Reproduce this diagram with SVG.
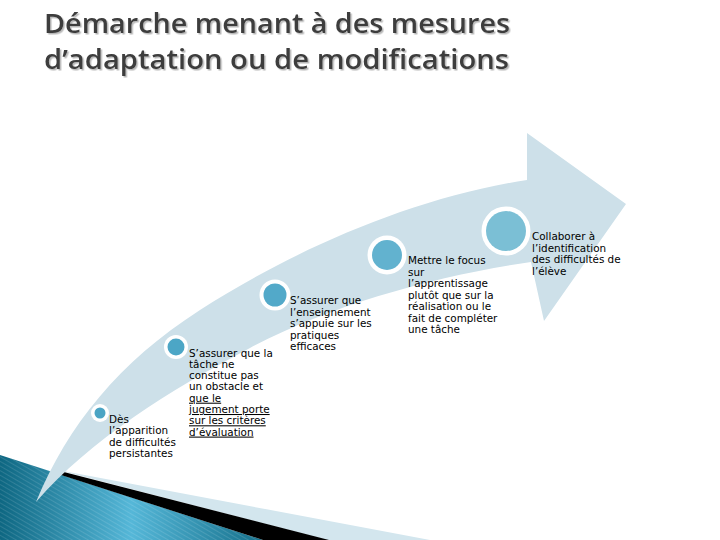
<svg xmlns="http://www.w3.org/2000/svg" width="720" height="540" viewBox="0 0 720 540">
  <defs>
    <linearGradient id="teal" x1="0" y1="0" x2="263" y2="0" gradientUnits="userSpaceOnUse">
      <stop offset="0" stop-color="#0e6782"/>
      <stop offset="0.5" stop-color="#55b7d8"/>
      <stop offset="1" stop-color="#15708b"/>
    </linearGradient>
    <pattern id="stripes" width="4" height="4" patternUnits="userSpaceOnUse" patternTransform="rotate(-60)">
      <rect width="1" height="4" fill="#ffffff" opacity="0.12"/>
    </pattern>
    <filter id="shadow" x="-5%" y="-20%" width="110%" height="150%">
      <feDropShadow dx="1.5" dy="1.5" stdDeviation="0.6" flood-color="#9a9a9a" flood-opacity="0.7"/>
    </filter>
  </defs>
  <style>
    .title { font-family: "Open Sans", "DejaVu Sans", sans-serif; font-weight: 600; font-size: 27px; fill: #3c3c3c; }
    .lbl { font-family: "DejaVu Sans", "Liberation Sans", sans-serif; font-size: 10.4px; fill: #000000; }
    .ul { text-decoration: underline; }
    .ring { fill: #ffffff; }
  </style>
  <rect width="720" height="540" fill="#ffffff"/>

  <!-- title -->
  <g id="title" filter="url(#shadow)">
    <text class="title" x="44" y="33" textLength="466" lengthAdjust="spacingAndGlyphs">Démarche menant à des mesures</text>
    <text class="title" x="44" y="69" textLength="465" lengthAdjust="spacingAndGlyphs">d’adaptation ou de modifications</text>
  </g>

  <!-- bottom-left decoration -->
  <g id="decoration">
    <polygon points="58,470 430,540 327,540" fill="#d3e6ee"/>
    <polygon points="0,455 263,540 0,540" fill="url(#teal)"/>
    <polygon points="0,455 263,540 0,540" fill="url(#stripes)"/>
    <polygon points="56,470 329,540 263,540 58,474" fill="#000000"/>
  </g>

  <!-- arrow band -->
  <g id="arrow">
    <path d="M36,502 C68,425 119,362 200,310 C290,252 410,198 527,180 L527,133 L626,204 L544,321 L531,262 C440,275 330,305 250,348 C170,390 90,440 36,502 Z" fill="#cde0e9"/>
  </g>

  <g id="connectors"></g>

  <!-- step 1 -->
  <g id="step1">
    <circle class="ring" cx="100" cy="413" r="9"/>
    <circle cx="100" cy="413" r="5.5" fill="#4aa4c4"/>
    <text class="lbl" x="109" y="422.5">Dès</text>
    <text class="lbl" x="109" y="434">l’apparition</text>
    <text class="lbl" x="109" y="445.5">de difficultés</text>
    <text class="lbl" x="109" y="457">persistantes</text>
  </g>

  <!-- step 2 -->
  <g id="step2">
    <circle class="ring" cx="176" cy="347" r="12"/>
    <circle cx="176" cy="347" r="8.5" fill="#4ca6c6"/>
    <text class="lbl" x="189" y="356.5">S’assurer que la</text>
    <text class="lbl" x="189" y="367.8">tâche ne</text>
    <text class="lbl" x="189" y="379.1">constitue pas</text>
    <text class="lbl" x="189" y="390.4">un obstacle et</text>
    <text class="lbl ul" x="189" y="401.7">que le</text>
    <text class="lbl ul" x="189" y="413">jugement porte</text>
    <text class="lbl ul" x="189" y="424.3">sur les critères</text>
    <text class="lbl ul" x="189" y="435.6">d’évaluation</text>
  </g>

  <!-- step 3 -->
  <g id="step3">
    <circle class="ring" cx="275" cy="295" r="15.5"/>
    <circle cx="275" cy="295" r="11.5" fill="#52a9c9"/>
    <text class="lbl" x="290" y="304">S’assurer que</text>
    <text class="lbl" x="290" y="315.5">l’enseignement</text>
    <text class="lbl" x="290" y="327">s’appuie sur les</text>
    <text class="lbl" x="290" y="338.5">pratiques</text>
    <text class="lbl" x="290" y="350">efficaces</text>
  </g>

  <!-- step 4 -->
  <g id="step4">
    <circle class="ring" cx="387" cy="255" r="19.5"/>
    <circle cx="387" cy="255" r="15" fill="#62b2cf"/>
    <text class="lbl" x="408" y="264">Mettre le focus</text>
    <text class="lbl" x="408" y="275.5">sur</text>
    <text class="lbl" x="408" y="287">l’apprentissage</text>
    <text class="lbl" x="408" y="298.5">plutôt que sur la</text>
    <text class="lbl" x="408" y="310">réalisation ou le</text>
    <text class="lbl" x="408" y="321.5">fait de compléter</text>
    <text class="lbl" x="408" y="333">une tâche</text>
  </g>

  <!-- step 5 -->
  <g id="step5">
    <circle class="ring" cx="506" cy="231" r="24.5"/>
    <circle cx="506" cy="231" r="20" fill="#7bbfd5"/>
    <text class="lbl" x="532" y="240">Collaborer à</text>
    <text class="lbl" x="532" y="251.5">l’identification</text>
    <text class="lbl" x="532" y="263">des difficultés de</text>
    <text class="lbl" x="532" y="274.5">l’élève</text>
  </g>
</svg>
